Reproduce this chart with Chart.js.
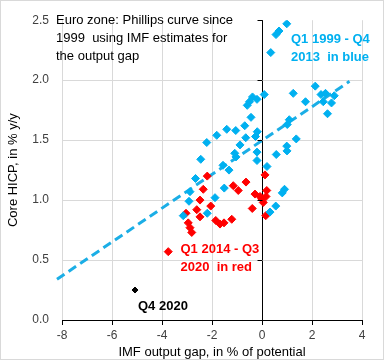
<!DOCTYPE html>
<html>
<head>
<meta charset="utf-8">
<script src="https://cdn.jsdelivr.net/npm/chart.js@4.4.1/dist/chart.umd.min.js"></script>
<style>
  html, body { margin: 0; padding: 0; background: #fff; }
  #wrap { width: 384px; height: 360px; position: relative; }
</style>
</head>
<body>
<div id="wrap"><canvas id="chart" width="384" height="360"></canvas></div>
<script>
// Q1 1999 - Q4 2013 (blue)
const blueGap = [0.35, 0.56, 0.68, 0.99, 0.09, -0.59, -0.5, -0.38, -0.2, -0.44,
  1.25, 2.13, 1.74, 2.36, 2.54, 2.45, 2.78, 2.89, 2.62,
  1.09, 1.01, 1.37, 0.99, 1.0, 0.57, 0.2,
  -0.2, -0.2, -0.19, -0.26, -0.69, -0.65, -0.88,
  -1.05, -1.41, -1.81, -2.21, -2.45,
  -1.09, -1.04, -1.56, -1.32,
  -2.66, -2.88, -2.92, -3.15, -2.19, -1.88, -1.51,
  0.32, 0.55, 0.81, 0.9];
const blueHicp = [2.23, 2.38, 2.41, 2.47, 1.88, 1.79, 1.82, 1.86, 1.84, 1.69,
  1.89, 1.95, 1.82, 1.88, 1.89, 1.82, 1.81, 1.87, 1.72,
  1.67, 1.63, 1.51, 1.45, 1.41, 1.38, 1.28,
  1.40, 1.33, 1.57, 1.53, 1.62, 1.52, 1.46,
  1.58, 1.59, 1.54, 1.48, 1.34,
  1.39, 1.36, 1.29, 1.25,
  1.18, 1.07, 0.99, 0.87, 0.89, 1.02, 1.10,
  0.90, 0.95, 1.06, 1.09];

// Q1 2014 - Q3 2020 (red)
const redGap = [-2.19, -2.35, -2.48, -2.61, -2.05, -2.48, -3.04, -2.95, -2.88, -2.81,
  -1.85, -1.68, -1.52, -1.21, -1.15, -0.95, -0.64, -0.39, -0.28, -0.08,
  -0.01, 0.05, 0.12, 0.19, 0.16, 0.15, -3.75];
const redHicp = [1.20, 1.09, 1.00, 0.92, 0.95, 0.86, 0.89, 0.81, 0.77, 0.73,
  0.83, 0.80, 0.81, 0.84, 1.12, 1.08, 1.15, 0.93, 1.05, 1.03,
  1.01, 0.98, 1.21, 1.08, 1.03, 0.87, 0.57];

// Q4 2020
const lastGap = [-5.08];
const lastHicp = [0.25];

// linear trend over the blue period, as drawn
const trendGap = [-8.2, 3.5];
const trendHicp = [0.34, 1.99];

const xTicks = [-8, -6, -4, -2, 0, 2, 4];
const yTicks = [0, 0.5, 1.0, 1.5, 2.0, 2.5];

const notes = [
  { lines: ['Euro zone: Phillips curve since', '1999  using IMF estimates for', 'the output gap'], x: -8.24, y: 2.494, color: '#000', bold: false },
  { lines: ['Q1 1999 - Q4', '2013  in blue'], x: 1.16, y: 2.342, color: '#00B0F0', bold: true },
  { lines: ['Q1 2014 - Q3', '2020  in red'], x: -3.26, y: 0.588, color: '#FF0000', bold: true },
  { lines: ['Q4 2020'], x: -4.96, y: 0.115, color: '#000', bold: true }
];

const pts = (xs, ys) => xs.map((x, i) => ({ x: x, y: ys[i] }));
const FONT = "'Liberation Sans', Arial, sans-serif";

const extras = {
  id: 'extras',
  beforeDraw(chart) {
    const c = chart.ctx;
    c.save();
    c.fillStyle = '#fff';
    c.fillRect(0, 0, chart.width, chart.height);
    c.strokeStyle = '#D9D9D9';
    c.lineWidth = 1;
    c.strokeRect(0.5, 0.5, chart.width - 1, chart.height - 1);
    c.restore();
  },
  afterDatasetsDraw(chart) {
    const c = chart.ctx, xs = chart.scales.x, ys = chart.scales.y;
    c.save();
    // tick marks on the vertical axis at x = 0
    const x0 = Math.round(xs.getPixelForValue(0)) + 0.5;
    c.strokeStyle = '#000';
    c.lineWidth = 1;
    yTicks.forEach(v => {
      const py = Math.round(ys.getPixelForValue(v)) + 0.5;
      c.beginPath();
      c.moveTo(x0 - 5, py);
      c.lineTo(x0, py);
      c.stroke();
    });
    // text notes
    c.textBaseline = 'middle';
    c.textAlign = 'left';
    notes.forEach(n => {
      c.font = (n.bold ? 'bold ' : '') + '13px ' + FONT;
      c.fillStyle = n.color;
      const px = xs.getPixelForValue(n.x);
      const py = ys.getPixelForValue(n.y);
      n.lines.forEach((t, i) => c.fillText(t, px, py + i * 18));
    });
    c.restore();
  }
};

new Chart(document.getElementById('chart'), {
  type: 'scatter',
  data: {
    datasets: [
      {
        label: 'Q1 1999 - Q4 2013',
        data: pts(blueGap, blueHicp),
        pointStyle: 'rectRot',
        pointRadius: 4,
        pointBorderWidth: 1,
        backgroundColor: '#00B0F0',
        borderColor: '#00B0F0'
      },
      {
        label: 'Q1 2014 - Q3 2020',
        data: pts(redGap, redHicp),
        pointStyle: 'rectRot',
        pointRadius: 4,
        pointBorderWidth: 1,
        backgroundColor: '#FF0000',
        borderColor: '#FF0000'
      },
      {
        label: 'Q4 2020',
        data: pts(lastGap, lastHicp),
        pointStyle: 'rectRot',
        pointRadius: 3,
        pointBorderWidth: 1,
        backgroundColor: '#000',
        borderColor: '#000'
      },
      {
        label: 'Trend',
        data: pts(trendGap, trendHicp),
        showLine: true,
        pointRadius: 0,
        borderColor: '#1BAEE6',
        borderWidth: 3,
        borderDash: [9, 5],
        clip: false
      }
    ]
  },
  options: {
    responsive: false,
    animation: false,
    events: [],
    layout: { padding: { top: 15, right: 22, left: 0, bottom: 0 } },
    plugins: { legend: { display: false }, tooltip: { enabled: false } },
    scales: {
      x: {
        type: 'linear',
        min: -8, max: 4,
        afterFit: s => { s.height = 40; },
        afterBuildTicks: s => { s.ticks = xTicks.map(v => ({ value: v })); },
        ticks: { color: '#404040', font: { family: FONT, size: 12 }, padding: 3 },
        grid: {
          color: ctx => ctx.tick && ctx.tick.value === 0 ? '#000' : '#D9D9D9',
          tickColor: '#000',
          tickLength: 5
        },
        border: { display: true, color: '#000', width: 1 },
        title: {
          display: true,
          text: 'IMF output gap, in % of potential',
          color: '#000',
          font: { family: FONT, size: 13 },
          padding: { top: 0, bottom: 0 }
        }
      },
      y: {
        min: 0, max: 2.5,
        afterFit: s => { s.width = 62; },
        afterBuildTicks: s => { s.ticks = yTicks.map(v => ({ value: v })); },
        ticks: {
          color: '#404040',
          font: { family: FONT, size: 12 },
          padding: 13,
          callback: v => Number(v).toFixed(1)
        },
        grid: {
          color: ctx => (ctx.tick && (ctx.tick.value === 2.5 || ctx.tick.value === 0)) ? 'rgba(0,0,0,0)' : '#D9D9D9',
          drawTicks: false
        },
        border: { display: false },
        title: {
          display: true,
          text: 'Core HICP, in % y/y',
          color: '#000',
          font: { family: FONT, size: 13 },
          padding: { top: 6, bottom: 0 }
        }
      }
    }
  },
  plugins: [extras]
});
</script>
</body>
</html>
